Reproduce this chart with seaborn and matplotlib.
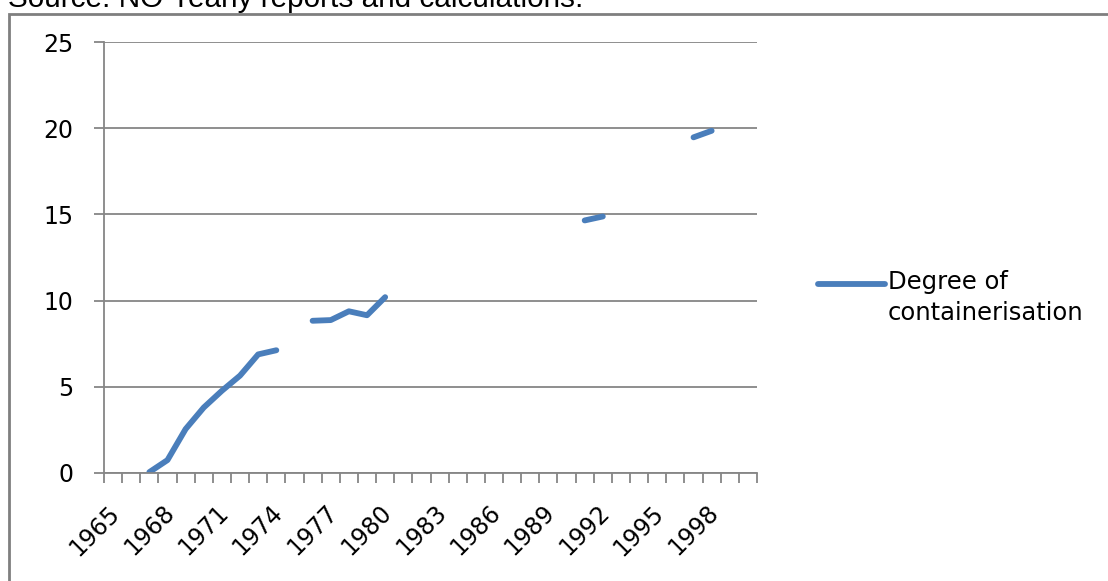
import numpy as np
import pandas as pd
import matplotlib
matplotlib.use("Agg")
import matplotlib.pyplot as plt
import seaborn as sns
from matplotlib.patches import Rectangle
from matplotlib.lines import Line2D
from matplotlib.transforms import ScaledTranslation

# ---- data ----
years = list(range(1965, 2001))
nan = np.nan
containerisation = [
    nan, nan, 0.05, 0.75, 2.55, 3.80, 4.77, 5.65, 6.88, 7.12,   # 1965-1974
    nan, 8.83, 8.87, 9.38, 9.15, 10.20,                          # 1975-1980
    nan, nan, nan, nan, nan, nan, nan, nan, nan, nan,            # 1981-1990
    14.65, 14.88,                                                # 1991-1992
    nan, nan, nan, nan,                                          # 1993-1996
    19.47, 19.85,                                                # 1997-1998
    nan, nan,                                                    # 1999-2000
]
label_years = list(range(1965, 1999, 3))
y_ticks = [0, 5, 10, 15, 20, 25]
series_name = "Degree of\ncontainerisation"
source_text = "Source: NO Yearly reports and calculations."

df = pd.DataFrame({"year": years, "value": containerisation})
df["seg"] = df["value"].isna().cumsum()
df = df.dropna()

# ---- figure ----
sns.set_style("white")
plt.rcParams["font.family"] = ["DejaVu Sans"]
W, H = 1108, 581
fig = plt.figure(figsize=(W / 100, H / 100), dpi=100)
ax = fig.add_axes([104 / W, 1 - 473 / H, (757 - 104) / W, (473 - 42) / H])

line_color = "#4A7EBB"
grid_color = "#868686"

sns.lineplot(data=df, x="year", y="value", units="seg", estimator=None,
             color=line_color, linewidth=4.2, ax=ax, legend=False,
             solid_capstyle="round")

ax.set_xlim(1964.5, 2000.5)
ax.set_ylim(0, 25)
ax.set_xlabel("")
ax.set_ylabel("")

ax.set_yticks(y_ticks)
ax.set_yticklabels([str(v) for v in y_ticks])
ax.yaxis.grid(True, color=grid_color, linewidth=1.3)
ax.xaxis.grid(False)

ax.set_xticks(label_years)
ax.set_xticklabels([str(y) for y in label_years], rotation=45, ha="right",
                   rotation_mode="anchor", va="center")
ax.set_xticks(np.arange(1964.5, 2001.0, 1.0), minor=True)

for s in ["top", "right"]:
    ax.spines[s].set_visible(False)
for s in ["left", "bottom"]:
    ax.spines[s].set_color(grid_color)
    ax.spines[s].set_linewidth(1.3)

ax.tick_params(axis="y", length=7.2, width=1.3, color=grid_color, pad=15,
               labelsize=17, labelcolor="#000000", direction="out", left=True)
ax.tick_params(axis="x", which="major", length=0, pad=26, labelsize=17,
               labelcolor="#000000")
ax.tick_params(axis="x", which="minor", length=7.2, width=1.3,
               color=grid_color, direction="out", bottom=True)

for lab in ax.get_xticklabels():
    lab.set_transform(lab.get_transform() + ScaledTranslation(3 / 100, 0, fig.dpi_scale_trans))

# legend (manual, Excel-like)
fig.add_artist(Line2D([818 / W, 885 / W], [1 - 284 / H, 1 - 284 / H],
                      color=line_color, linewidth=4.2, solid_capstyle="round"))
fig.text(888 / W, 1 - 270 / H, series_name, fontsize=17.5, va="top", ha="left",
         linespacing=1.38, color="#000000")

# border and source line
fig.add_artist(Rectangle((9 / W, -0.1), 1.2, (H - 13.5) / H + 0.1,
                         transform=fig.transFigure, fill=False,
                         edgecolor="#7F7F7F", linewidth=2))
fig.text(8 / W, 1 - 7 / H, source_text, fontsize=21.4, va="baseline", ha="left",
         family=["Liberation Sans"], color="#000000")

fig.savefig("out.png", dpi=100)
